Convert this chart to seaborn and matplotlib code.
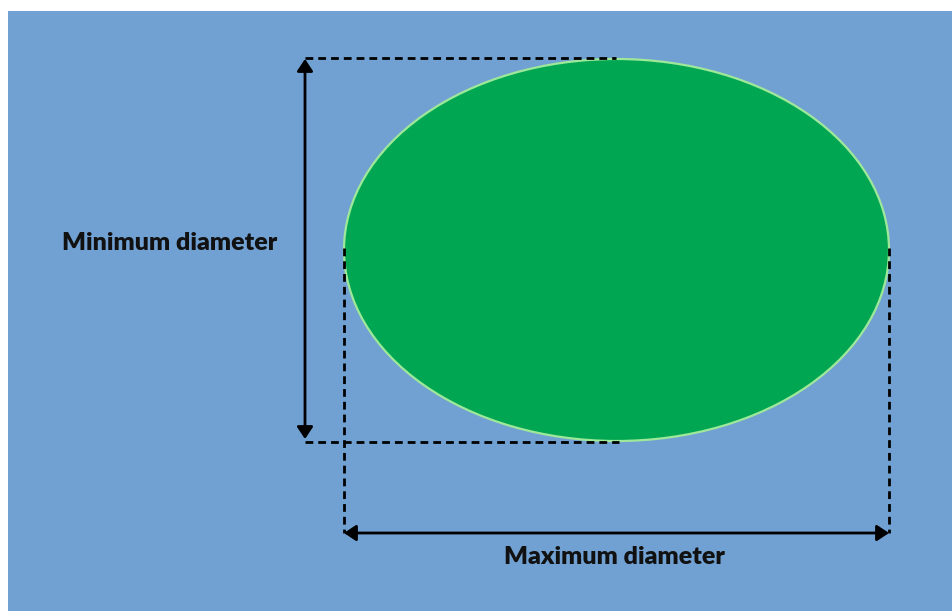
import matplotlib
matplotlib.use("Agg")
import matplotlib.pyplot as plt
import seaborn as sns
from matplotlib.patches import Ellipse, Rectangle

# Données du schéma (en pixels)
labels = ["Minimum diameter", "Maximum diameter"]
max_diameter = 545
min_diameter = 382

sns.set_theme(style="white")
plt.rcParams['font.family'] = ['Lato', 'DejaVu Sans']

W, H = 953, 611
fig = plt.figure(figsize=(W / 100, H / 100), dpi=100)
ax = fig.add_axes([0, 0, 1, 1])
ax.set_xlim(0, W)
ax.set_ylim(H, 0)
ax.axis("off")

# fond bleu
ax.add_patch(Rectangle((8, 11), W - 8, H - 11, facecolor="#71a1d2", edgecolor="none"))

# ellipse
cx, cy = 616.5, 250
ax.add_patch(Ellipse((cx, cy), max_diameter, min_diameter, facecolor="#00a651",
                     edgecolor="#9ee89a", linewidth=1.6, zorder=2))

left, right = cx - max_diameter / 2, cx + max_diameter / 2
top, bottom = cy - min_diameter / 2, cy + min_diameter / 2
x_arrow = 305
y_arrow = 533
dash = dict(color="black", linewidth=2.0, linestyle=(0, (2.8, 1.8)), zorder=3)

# lignes pointillées
ax.plot([x_arrow, cx], [top - 1, top - 1], **dash)
ax.plot([x_arrow, cx + 3], [bottom + 1, bottom + 1], **dash)
ax.plot([left, left], [cy - 2, y_arrow], **dash)
ax.plot([right, right], [cy - 2, y_arrow], **dash)

# flèches
arrow = dict(arrowstyle="<|-|>,head_length=0.6,head_width=0.4", color="black",
             linewidth=2.0, shrinkA=0, shrinkB=0)
ax.annotate("", xy=(x_arrow, top), xytext=(x_arrow, bottom - 2), arrowprops=arrow, zorder=4)
ax.annotate("", xy=(left, y_arrow), xytext=(right, y_arrow), arrowprops=arrow, zorder=4)

# textes
ax.text(170, 243, labels[0], ha="center", va="center", fontsize=18,
        fontweight="heavy", color="#111111")
ax.text(614, 557, labels[1], ha="center", va="center", fontsize=18,
        fontweight="heavy", color="#111111")

fig.savefig("out.png", dpi=100, facecolor="white")
